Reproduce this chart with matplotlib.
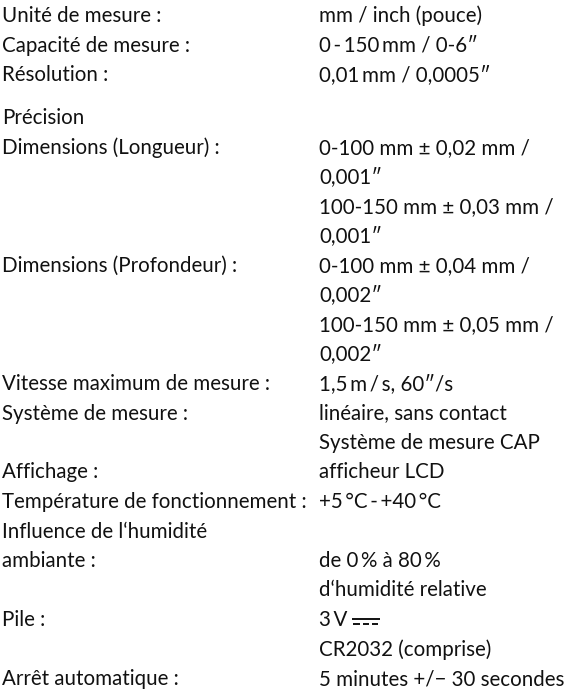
import matplotlib
matplotlib.use("Agg")
from matplotlib import pyplot as plt

plt.rcParams['font.family'] = ['Lato', 'DejaVu Sans']

# left column labels, one entry per printed line ("" = nothing on that side)
labels = [
    "Unité de mesure :",
    "Capacité de mesure :",
    "Résolution :",
    None,  # blank spacer
    "Précision",
    "Dimensions (Longueur) :",
    "",
    "",
    "",
    "Dimensions (Profondeur) :",
    "",
    "",
    "",
    "Vitesse maximum de mesure :",
    "Système de mesure :",
    "",
    "Affichage :",
    "Température de fonctionnement :",
    "Influence de l\u2018humidité",
    "ambiante :",
    "",
    "Pile :",
    "",
    "Arrêt automatique :",
]

# right column values, same lines
values = [
    "mm / inch (pouce)",
    "0\u2009-\u2009150\u2009mm / 0-6\u2033",
    "0,01\u2009mm / 0,0005\u2033",
    None,
    "",
    "0-100 mm \u00b1 0,02 mm /",
    "0,001\u2033",
    "100-150 mm \u00b1 0,03 mm /",
    "0,001\u2033",
    "0-100 mm \u00b1 0,04 mm /",
    "0,002\u2033",
    "100-150 mm \u00b1 0,05 mm /",
    "0,002\u2033",
    "1,5\u2009m\u2009/\u2009s, 60\u2033/s",
    "linéaire, sans contact",
    "Système de mesure CAP",
    "afficheur LCD",
    "+5\u2009°C\u2009-\u2009+40\u2009°C",
    "",
    "de 0\u2009% à 80\u2009%",
    "d\u2018humidité relative",
    "3\u2009V",
    "CR2032 (comprise)",
    "5 minutes +/\u2212 30 secondes",
]
dc_row = 21  # the battery line gets a DC symbol after "3 V"

fig = plt.figure(figsize=(5.77, 6.92), dpi=100)
ax = fig.add_axes([0, 0, 1, 1])
ax.set_xlim(0, 577)
ax.set_ylim(692, 0)
ax.axis('off')

fs = 14.8
col = '#111111'
x_left, x_right = 2, 319
line_h = 29.5
y = 22
dc_txt, dc_y = None, None
for i, (lab, val) in enumerate(zip(labels, values)):
    if lab is None:
        y += 14
        continue
    ax.text(x_left, y, lab, fontsize=fs, va='baseline', ha='left', color=col)
    t = ax.text(x_right, y, val, fontsize=fs, va='baseline', ha='left', color=col)
    if i == dc_row:
        dc_txt, dc_y = t, y
    y += line_h

# DC symbol (no installed font has U+2393), solid bar over dashed bar
fig.canvas.draw()
bb = dc_txt.get_window_extent().transformed(ax.transData.inverted())
x0 = bb.x1 + 5
w = 28
ax.plot([x0, x0 + w], [dc_y - 7, dc_y - 7], color=col, lw=1.4, solid_capstyle='butt')
for k in range(3):
    xs = x0 + k * w / 3 + 1
    ax.plot([xs, xs + w / 3 - 3], [dc_y - 2.5, dc_y - 2.5], color=col, lw=1.4,
            solid_capstyle='butt')

fig.savefig("out.png", dpi=100, facecolor='white')
